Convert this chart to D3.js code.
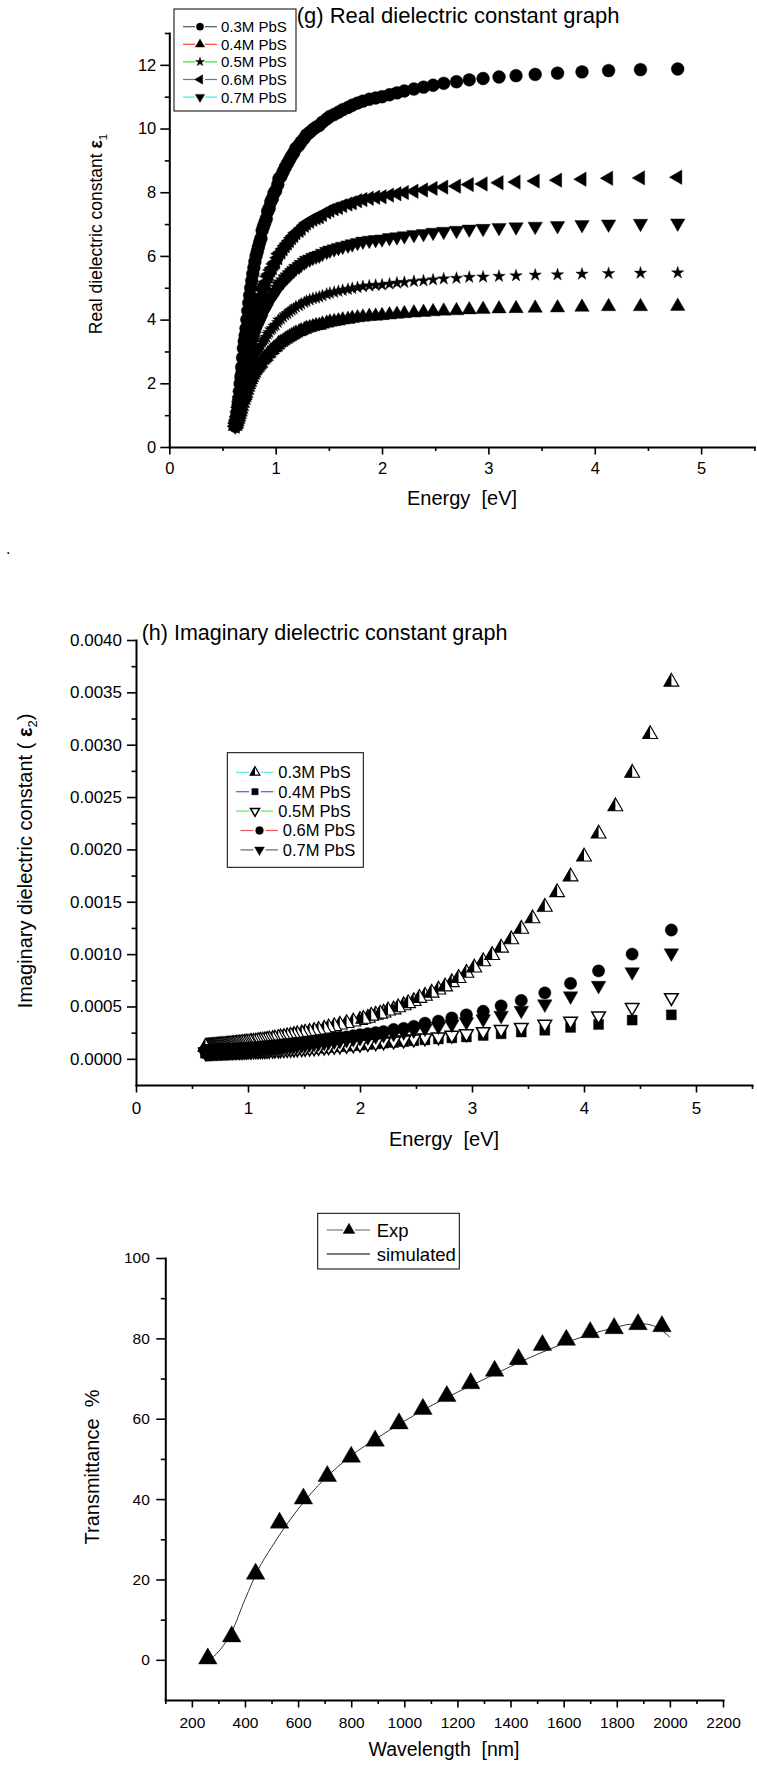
<!DOCTYPE html>
<html>
<head>
<meta charset="utf-8">
<script src="https://cdn.jsdelivr.net/npm/d3@7"></script>
<style>
  body { margin: 0; background: #fff; }
  svg { display: block; }
</style>
</head>
<body>
<div id="chart"></div>
<script>
// photon energy (eV) of the sampled wavelengths, shared by panels (g) and (h)
var energy = [
  4.78, 4.43, 4.13, 3.88, 3.65, 3.44, 3.26, 3.10, 2.95, 2.82,
  2.70, 2.58, 2.48, 2.39, 2.30, 2.21, 2.14, 2.07, 2.00, 1.94,
  1.88, 1.82, 1.77, 1.72, 1.68, 1.63, 1.59, 1.55, 1.51, 1.48,
  1.44, 1.41, 1.38, 1.35, 1.32, 1.29, 1.27, 1.24, 1.22, 1.19,
  1.17, 1.15, 1.13, 1.11, 1.09, 1.07, 1.05, 1.03, 1.02, 1.00,
  0.984, 0.969, 0.954, 0.939, 0.925, 0.912, 0.899, 0.886, 0.873, 0.861,
  0.849, 0.838, 0.827, 0.816, 0.805, 0.795, 0.785, 0.775, 0.765, 0.756,
  0.747, 0.738, 0.729, 0.721, 0.713, 0.705, 0.697, 0.689, 0.681, 0.674,
  0.667, 0.660, 0.653, 0.646, 0.639, 0.633, 0.626, 0.620];

var seriesLabels = ['0.3M PbS', '0.4M PbS', '0.5M PbS', '0.6M PbS', '0.7M PbS'];

// (g) real part
var eps1_03 = [
  11.87, 11.85, 11.82, 11.78, 11.74, 11.70, 11.66, 11.62, 11.57, 11.53,
  11.47, 11.42, 11.36, 11.30, 11.24, 11.18, 11.12, 11.06, 11.00, 10.96,
  10.92, 10.86, 10.80, 10.73, 10.66, 10.59, 10.51, 10.44, 10.38, 10.30,
  10.20, 10.10, 10.04, 9.97, 9.88, 9.80, 9.70, 9.58, 9.48, 9.38,
  9.24, 9.14, 9.02, 8.90, 8.78, 8.64, 8.50, 8.42, 8.24, 8.05,
  7.97, 7.80, 7.70, 7.50, 7.40, 7.17, 7.05, 6.93, 6.80, 6.55,
  6.42, 6.28, 6.14, 6.00, 5.82, 5.63, 5.43, 5.22, 5.00, 4.76,
  4.52, 4.27, 4.00, 3.72, 3.50, 3.32, 3.10, 2.80, 2.50, 2.22,
  2.00, 1.75, 1.50, 1.30, 1.10, 0.90, 0.78, 0.65];
var eps1_04 = [
  4.42, 4.41, 4.41, 4.39, 4.37, 4.36, 4.35, 4.34, 4.32, 4.31,
  4.28, 4.27, 4.25, 4.23, 4.21, 4.19, 4.17, 4.15, 4.13, 4.11,
  4.10, 4.08, 4.06, 4.04, 4.01, 3.99, 3.96, 3.94, 3.92, 3.89,
  3.86, 3.82, 3.81, 3.78, 3.75, 3.73, 3.69, 3.65, 3.62, 3.58,
  3.54, 3.50, 3.46, 3.42, 3.38, 3.33, 3.29, 3.26, 3.20, 3.14,
  3.11, 3.05, 3.02, 2.95, 2.92, 2.84, 2.80, 2.76, 2.72, 2.63,
  2.59, 2.54, 2.49, 2.45, 2.39, 2.32, 2.26, 2.18, 2.11, 2.03,
  1.95, 1.87, 1.78, 1.68, 1.61, 1.55, 1.47, 1.37, 1.27, 1.18,
  1.10, 1.02, 0.94, 0.87, 0.80, 0.73, 0.70, 0.65];
var eps1_05 = [
  5.47, 5.46, 5.45, 5.43, 5.41, 5.40, 5.38, 5.36, 5.34, 5.33,
  5.30, 5.28, 5.25, 5.22, 5.20, 5.17, 5.15, 5.12, 5.09, 5.08,
  5.06, 5.04, 5.01, 4.98, 4.95, 4.92, 4.89, 4.86, 4.83, 4.80,
  4.75, 4.71, 4.68, 4.66, 4.62, 4.58, 4.54, 4.49, 4.44, 4.40,
  4.34, 4.30, 4.25, 4.19, 4.15, 4.08, 4.02, 3.99, 3.91, 3.83,
  3.79, 3.72, 3.68, 3.60, 3.55, 3.45, 3.40, 3.35, 3.29, 3.19,
  3.13, 3.07, 3.01, 2.95, 2.87, 2.79, 2.70, 2.61, 2.52, 2.41,
  2.31, 2.21, 2.09, 1.97, 1.87, 1.80, 1.70, 1.58, 1.45, 1.33,
  1.23, 1.12, 1.02, 0.93, 0.84, 0.76, 0.71, 0.65];
var eps1_06 = [
  8.47, 8.45, 8.44, 8.41, 8.38, 8.35, 8.32, 8.30, 8.26, 8.24,
  8.19, 8.16, 8.12, 8.07, 8.03, 7.99, 7.95, 7.91, 7.86, 7.84,
  7.81, 7.77, 7.73, 7.67, 7.63, 7.58, 7.52, 7.48, 7.43, 7.38,
  7.30, 7.23, 7.20, 7.15, 7.09, 7.03, 6.96, 6.87, 6.80, 6.73,
  6.64, 6.57, 6.48, 6.40, 6.32, 6.22, 6.12, 6.07, 5.94, 5.81,
  5.75, 5.63, 5.56, 5.43, 5.36, 5.19, 5.11, 5.03, 4.94, 4.76,
  4.67, 4.58, 4.47, 4.38, 4.26, 4.12, 3.98, 3.83, 3.68, 3.51,
  3.35, 3.18, 2.99, 2.79, 2.64, 2.51, 2.36, 2.15, 1.94, 1.75,
  1.59, 1.42, 1.24, 1.10, 0.96, 0.82, 0.74, 0.65];
var eps1_07 = [
  7.03, 7.02, 7.00, 6.98, 6.95, 6.93, 6.91, 6.89, 6.86, 6.84,
  6.80, 6.77, 6.74, 6.70, 6.67, 6.63, 6.60, 6.57, 6.53, 6.51,
  6.49, 6.46, 6.42, 6.38, 6.34, 6.30, 6.26, 6.22, 6.18, 6.14,
  6.08, 6.02, 5.99, 5.95, 5.90, 5.86, 5.80, 5.73, 5.67, 5.61,
  5.54, 5.48, 5.41, 5.34, 5.28, 5.19, 5.12, 5.07, 4.96, 4.86,
  4.81, 4.71, 4.66, 4.55, 4.49, 4.36, 4.29, 4.22, 4.15, 4.01,
  3.93, 3.85, 3.77, 3.69, 3.59, 3.48, 3.37, 3.25, 3.13, 2.99,
  2.85, 2.71, 2.56, 2.40, 2.27, 2.17, 2.04, 1.88, 1.70, 1.54,
  1.42, 1.28, 1.14, 1.02, 0.91, 0.79, 0.73, 0.65];

// (h) imaginary part
var eps2_03 = [
  0.00360, 0.00273, 0.00215, 0.00174, 0.00145, 0.00124, 0.00106, 0.00093, 0.00082, 0.00073,
  0.00066, 0.00060, 0.00055, 0.00051, 0.00047, 0.00044, 0.00042, 0.00039, 0.00037, 0.000355,
  0.00034, 0.000325, 0.00031, 0.000298, 0.000285, 0.000275, 0.000264, 0.000255, 0.000248, 0.00024,
  0.000233, 0.000226, 0.00022, 0.000214, 0.000208, 0.000204, 0.000198, 0.000193, 0.000189, 0.000185,
  0.00018, 0.000177, 0.000174, 0.000171, 0.000168, 0.000165, 0.000162, 0.00016, 0.000158, 0.000155,
  0.000154, 0.000151, 0.00015, 0.000148, 0.000146, 0.000144, 0.000143, 0.000142, 0.00014, 0.000138,
  0.000137, 0.000136, 0.000134, 0.000133, 0.000132, 0.000131, 0.00013, 0.000129, 0.000128, 0.000127,
  0.000126, 0.000125, 0.000124, 0.000123, 0.000122, 0.000122, 0.000121, 0.00012, 0.000119, 0.000118,
  0.000118, 0.000117, 0.000116, 0.000116, 0.000115, 0.000114, 0.000114, 0.000113];
// the 0.3M curve has extra points in between at high energy
var energyHalf = [4.59, 4.28, 4.00, 3.76, 3.54, 3.35, 3.18, 3.02, 2.88, 2.76, 2.64, 2.53, 2.43, 2.34, 2.25, 2.18, 2.10, 2.03];
var eps2_03Half = [0.00310, 0.00241, 0.00193, 0.00159, 0.00134, 0.00114, 0.00099, 0.00087, 0.00077, 0.00069,
  0.00063, 0.00058, 0.00053, 0.00049, 0.00046, 0.00043, 0.00041, 0.00038];
var eps2_04 = [
  0.00042, 0.00037, 0.000328, 0.0003, 0.000273, 0.000256, 0.000239, 0.000223, 0.000209, 0.0002,
  0.00019, 0.000181, 0.000172, 0.000164, 0.000156, 0.00015, 0.000143, 0.000137, 0.000131, 0.000126,
  0.000121, 0.000117, 0.000113, 0.000109, 0.000105, 0.000102, 0.000098, 0.000096, 0.000094, 0.000091,
  0.000089, 0.000087, 0.000085, 0.000083, 0.000081, 0.00008, 0.000078, 0.000077, 0.000076, 0.000075,
  0.000073, 0.000072, 0.000071, 0.00007, 0.000069, 0.000069, 0.000068, 0.000067, 0.000067, 0.000066,
  0.000066, 0.000065, 0.000065, 0.000064, 0.000064, 0.000063, 0.000063, 0.000062, 0.000062, 0.000062,
  0.000061, 0.000061, 0.000061, 0.00006, 0.00006, 0.00006, 0.00006, 0.000059, 0.000059, 0.000059,
  0.000058, 0.000058, 0.000058, 0.000058, 0.000057, 0.000057, 0.000057, 0.000057, 0.000056, 0.000056,
  0.000056, 0.000056, 0.000056, 0.000055, 0.000055, 0.000055, 0.000055, 0.000055];
var eps2_05 = [
  0.000585, 0.00049, 0.00041, 0.00036, 0.00033, 0.0003, 0.00028, 0.00026, 0.00024, 0.000225,
  0.00021, 0.0002, 0.00019, 0.00018, 0.00017, 0.000162, 0.000154, 0.000147, 0.00014, 0.000134,
  0.000129, 0.000124, 0.00012, 0.000116, 0.000112, 0.000109, 0.000105, 0.000102, 0.0001, 0.000097,
  0.000095, 0.000093, 0.000091, 0.000089, 0.000087, 0.000086, 0.000084, 0.000083, 0.000082, 0.000081,
  0.00008, 0.000079, 0.000078, 0.000077, 0.000076, 0.000076, 0.000075, 0.000075, 0.000074, 0.000074,
  0.000073, 0.000073, 0.000072, 0.000072, 0.000071, 0.000071, 0.00007, 0.00007, 0.00007, 0.000069,
  0.000069, 0.000068, 0.000068, 0.000068, 0.000067, 0.000067, 0.000067, 0.000066, 0.000066, 0.000066,
  0.000065, 0.000065, 0.000065, 0.000064, 0.000064, 0.000064, 0.000064, 0.000063, 0.000063, 0.000063,
  0.000062, 0.000062, 0.000062, 0.000062, 0.000061, 0.000061, 0.000061, 0.00006];
var eps2_06 = [
  0.00123, 0.00100, 0.00084, 0.00072, 0.00063, 0.000557, 0.000506, 0.000454, 0.00042, 0.00039,
  0.00036, 0.00034, 0.00031, 0.00029, 0.00028, 0.00026, 0.00025, 0.00024, 0.00023, 0.00022,
  0.00021, 0.000205, 0.0002, 0.00019, 0.000183, 0.000177, 0.00017, 0.000165, 0.00016, 0.000155,
  0.00015, 0.000146, 0.000142, 0.000138, 0.000134, 0.000131, 0.000128, 0.000125, 0.000122, 0.00012,
  0.000117, 0.000115, 0.000113, 0.000111, 0.000109, 0.000107, 0.000105, 0.000104, 0.000102, 0.0001,
  0.000099, 0.000098, 0.000097, 0.000096, 0.000095, 0.000094, 0.000093, 0.000092, 0.000091, 0.00009,
  0.000089, 0.000088, 0.000087, 0.000087, 0.000086, 0.000086, 0.000085, 0.000085, 0.000084, 0.000084,
  0.000083, 0.000083, 0.000082, 0.000082, 0.000081, 0.000081, 0.000081, 0.00008, 0.00008, 0.00008,
  0.000079, 0.000079, 0.000079, 0.000078, 0.000078, 0.000078, 0.000077, 0.000077];
var eps2_07 = [
  0.00101, 0.00083, 0.00070, 0.00060, 0.000523, 0.000462, 0.000414, 0.00038, 0.000353, 0.00033,
  0.00031, 0.00029, 0.000272, 0.000256, 0.000242, 0.00023, 0.000218, 0.000208, 0.0002, 0.00019,
  0.000182, 0.000175, 0.000168, 0.000162, 0.000156, 0.00015, 0.000145, 0.00014, 0.000136, 0.000132,
  0.000128, 0.000124, 0.000121, 0.000118, 0.000115, 0.000113, 0.00011, 0.000107, 0.000105, 0.000103,
  0.000101, 0.000099, 0.000097, 0.000095, 0.000094, 0.000092, 0.000091, 0.00009, 0.000089, 0.000088,
  0.000087, 0.000086, 0.000085, 0.000084, 0.000083, 0.000082, 0.000081, 0.00008, 0.00008, 0.000079,
  0.000078, 0.000078, 0.000077, 0.000077, 0.000076, 0.000076, 0.000075, 0.000075, 0.000074, 0.000074,
  0.000073, 0.000073, 0.000073, 0.000072, 0.000072, 0.000072, 0.000071, 0.000071, 0.000071, 0.00007,
  0.00007, 0.00007, 0.00007, 0.000069, 0.000069, 0.000069, 0.000069, 0.000068];

// transmittance
var wavelengthExp = [260, 350, 440, 530, 620, 710, 800, 890, 980, 1070, 1160, 1250, 1340, 1430, 1520, 1610, 1700, 1790, 1880, 1970];
var transExp = [0.3, 5.8, 21.4, 34.1, 40.1, 45.7, 50.5, 54.5, 58.8, 62.4, 65.6, 68.8, 71.9, 74.8, 78.3, 79.6, 81.5, 82.5, 83.5, 83.0];
var wavelengthSim = [265, 300, 350, 400, 450, 500, 550, 600, 650, 700, 800, 900, 1000, 1100, 1200, 1300, 1400, 1500, 1600, 1700, 1800, 1850, 1900, 1950, 2000];
var transSim = [0, 2, 7, 15, 22.5, 28, 33, 37.5, 41.5, 45, 50.8, 55.3, 59.4, 63.2, 66.6, 69.8, 73, 76, 78.7, 81, 82.8, 83.5, 83.6, 82.8, 80.3];

// ticks
var energyTicks = [0, 1, 2, 3, 4, 5];
var energyMinor = [0.5, 1.5, 2.5, 3.5, 4.5, 5.5];
var eps1Ticks = [0, 2, 4, 6, 8, 10, 12];
var eps1Minor = [1, 3, 5, 7, 9, 11, 13];
var eps2Ticks = [0, 0.0005, 0.001, 0.0015, 0.002, 0.0025, 0.003, 0.0035, 0.004];
var eps2Minor = [0.00025, 0.00075, 0.00125, 0.00175, 0.00225, 0.00275, 0.00325, 0.00375];
var wlTicks = [200, 400, 600, 800, 1000, 1200, 1400, 1600, 1800, 2000, 2200];
var wlMinor = [100, 300, 500, 700, 900, 1100, 1300, 1500, 1700, 1900, 2100];
var transTicks = [0, 20, 40, 60, 80, 100];
var transMinor = [10, 30, 50, 70, 90];

var FONT = 'Arial, "Liberation Sans", Helvetica, sans-serif';

var svg = d3.select('#chart').append('svg')
  .attr('width', 757)
  .attr('height', 1769);
svg.append('rect').attr('width', 757).attr('height', 1769).attr('fill', '#fff');

function frame(o) {
  var x = d3.scaleLinear().domain(o.xDomain).range(o.xRange);
  var y = d3.scaleLinear().domain(o.yDomain).range(o.yRange);
  var g = svg.append('g');

  g.append('g').attr('class', 'minor')
    .attr('transform', 'translate(0,' + o.yRange[0] + ')')
    .call(d3.axisBottom(x).tickValues(o.xMinor).tickSize(4).tickSizeOuter(0).tickFormat(''));
  g.append('g').attr('class', 'minor')
    .attr('transform', 'translate(' + o.xRange[0] + ',0)')
    .call(d3.axisLeft(y).tickValues(o.yMinor).tickSize(4.5).tickSizeOuter(0).tickFormat(''));
  g.append('g')
    .attr('transform', 'translate(0,' + o.yRange[0] + ')')
    .call(d3.axisBottom(x).tickValues(o.xTicks).tickSize(7.5).tickSizeOuter(0)
      .tickPadding(o.xPad).tickFormat(o.xFmt));
  g.append('g')
    .attr('transform', 'translate(' + o.xRange[0] + ',0)')
    .call(d3.axisLeft(y).tickValues(o.yTicks).tickSize(9).tickSizeOuter(0)
      .tickPadding(o.yPad).tickFormat(o.yFmt));

  g.selectAll('.minor .domain').remove();
  g.selectAll('.domain').attr('stroke', '#000').attr('stroke-width', 2).attr('stroke-linecap', 'square');
  g.selectAll('.tick line').attr('stroke', '#000').attr('stroke-width', 1.6);
  g.selectAll('.tick text')
    .attr('font-family', FONT)
    .attr('font-size', o.tickFont)
    .attr('fill', '#000');

  return { x: x, y: y, g: g };
}

function marker(sel, kind, size) {
  if (kind === 'halfUp') {
    var r = Math.sqrt(size / (Math.sqrt(3) * 3)), s = Math.sqrt(3) * r;
    sel.append('path')
      .attr('d', 'M0,' + (-2 * r) + 'L' + (-s) + ',' + r + 'L' + s + ',' + r + 'Z')
      .attr('fill', '#fff').attr('stroke', '#000').attr('stroke-width', 1.1);
    sel.append('path')
      .attr('d', 'M0,' + (-2 * r) + 'L' + (-s) + ',' + r + 'L0,' + r + 'Z')
      .attr('fill', '#000');
    return;
  }
  var type = { circle: d3.symbolCircle, star: d3.symbolStar, square: d3.symbolSquare }[kind] || d3.symbolTriangle;
  var rot = { left: -90, down: 180, downOpen: 180 }[kind] || 0;
  sel.append('path')
    .attr('d', d3.symbol().type(type).size(size)())
    .attr('transform', rot ? 'rotate(' + rot + ')' : null)
    .attr('fill', kind === 'downOpen' ? '#fff' : '#000')
    .attr('stroke', '#000')
    .attr('stroke-width', kind === 'downOpen' ? 1.5 : 0.4);
}

function marks(p, xs, ys, kind, size) {
  var sel = p.g.append('g').selectAll('g')
    .data(d3.zip(xs, ys))
    .join('g')
    .attr('transform', function (d) { return 'translate(' + p.x(d[0]) + ',' + p.y(d[1]) + ')'; });
  marker(sel, kind, size);
}

function legend(box, rows, font) {
  svg.append('rect')
    .attr('x', box[0]).attr('y', box[1]).attr('width', box[2]).attr('height', box[3])
    .attr('fill', '#fff').attr('stroke', '#000').attr('stroke-width', 1);
  rows.forEach(function (r) {
    svg.append('line').attr('x1', r.x1).attr('x2', r.xm - r.gap).attr('y1', r.y).attr('y2', r.y)
      .attr('stroke', r.color).attr('stroke-width', 1.2);
    svg.append('line').attr('x1', r.xm + r.gap).attr('x2', r.x2).attr('y1', r.y).attr('y2', r.y)
      .attr('stroke', r.color).attr('stroke-width', 1.2);
    if (r.kind) {
      marker(svg.append('g').attr('transform', 'translate(' + r.xm + ',' + r.y + ')'), r.kind, r.size);
    }
    svg.append('text')
      .attr('x', r.tx).attr('y', r.y + font * 0.36)
      .attr('font-family', FONT).attr('font-size', font).attr('fill', '#000')
      .text(r.label);
  });
}

function text(x, y, str, size, anchor) {
  return svg.append('text')
    .attr('x', x).attr('y', y)
    .attr('text-anchor', anchor || 'start')
    .attr('font-family', FONT).attr('font-size', size).attr('fill', '#000')
    .text(str);
}

////////////////////////////////
// (g) real dielectric constant
var p1 = frame({
  xDomain: [0, 5.5], xRange: [169.3, 754.3],
  yDomain: [0, 13], yRange: [447, 33],
  xTicks: energyTicks, xMinor: energyMinor, yTicks: eps1Ticks, yMinor: eps1Minor,
  xFmt: d3.format('d'), yFmt: d3.format('d'), xPad: 8, yPad: 4, tickFont: 16.5
});
var kinds1 = ['circle', 'up', 'star', 'left', 'down'];
var sizes1 = [130, 90, 48, 90, 90];
[eps1_03, eps1_04, eps1_05, eps1_06, eps1_07].forEach(function (ys, i) {
  marks(p1, energy, ys, kinds1[i], sizes1[i]);
});

text(296.7, 22.5, '(g) Real dielectric constant graph', 22);
text(462, 505, 'Energy\u00a0 [eV]', 20, 'middle');
var t1 = svg.append('text')
  .attr('transform', 'translate(102,234) rotate(-90)')
  .attr('text-anchor', 'middle')
  .attr('font-family', FONT).attr('font-size', 17.5).attr('fill', '#000');
t1.append('tspan').text('Real dielectric constant ');
t1.append('tspan').attr('font-weight', 'bold').text('\u03b5');
t1.append('tspan').attr('font-size', 11.5).attr('dy', 5).text('1');

var colors1 = ['#555555', '#ff4040', '#33dd33', '#6060ff', '#33eeee'];
legend([174, 9, 122, 102], seriesLabels.map(function (lab, i) {
  return { y: 26.7 + i * 17.6, x1: 183, xm: 200, x2: 217, gap: 5, tx: 221,
    color: colors1[i], kind: kinds1[i], size: [42, 38, 26, 38, 38][i], label: lab };
}), 15);

svg.append('text').attr('x', 6).attr('y', 554)
  .attr('font-family', FONT).attr('font-size', 16).text('.');

////////////////////////////////
// (h) imaginary dielectric constant
var p2 = frame({
  xDomain: [0, 5.5], xRange: [136, 752],
  yDomain: [-0.00025, 0.004], yRange: [1085, 640],
  xTicks: energyTicks, xMinor: energyMinor, yTicks: eps2Ticks, yMinor: eps2Minor,
  xFmt: d3.format('d'), yFmt: d3.format('.4f'), xPad: 9, yPad: 5, tickFont: 17
});
marks(p2, energy, eps2_03, 'halfUp', 95);
marks(p2, energyHalf, eps2_03Half, 'halfUp', 95);
marks(p2, energy, eps2_04, 'square', 100);
marks(p2, energy, eps2_05, 'downOpen', 80);
marks(p2, energy, eps2_06, 'circle', 120);
marks(p2, energy, eps2_07, 'down', 92);

text(141.7, 639.5, '(h) Imaginary dielectric constant graph', 21.5);
text(444, 1146, 'Energy\u00a0 [eV]', 20, 'middle');
var t2 = svg.append('text')
  .attr('transform', 'translate(32,861) rotate(-90)')
  .attr('text-anchor', 'middle')
  .attr('font-family', FONT).attr('font-size', 20).attr('fill', '#000');
t2.append('tspan').text('Imaginary dielectric constant ( ');
t2.append('tspan').attr('font-weight', 'bold').text('\u03b5');
t2.append('tspan').attr('font-size', 13).attr('dy', 5).text('2');
t2.append('tspan').attr('dy', -5).text(')');

var colors2 = ['#55eeee', '#5555ee', '#55ee55', '#ee5555', '#666666'];
var kinds2 = ['halfUp', 'square', 'downOpen', 'circle', 'down'];
legend([227.3, 752.7, 136, 114.6], seriesLabels.map(function (lab, i) {
  var shift = i > 2 ? 4.5 : 0;
  return { y: 772.3 + i * 19.4, x1: 236 + shift, xm: 255 + shift, x2: 273.3 + shift, gap: 6,
    tx: 278.3 + shift, color: colors2[i], kind: kinds2[i], size: [42, 40, 36, 48, 42][i], label: lab };
}), 16.5);

////////////////////////////////
// transmittance
var p3 = frame({
  xDomain: [100, 2200], xRange: [165.3, 723],
  yDomain: [-10, 100], yRange: [1700, 1258],
  xTicks: wlTicks, xMinor: wlMinor, yTicks: transTicks, yMinor: transMinor,
  xFmt: d3.format('d'), yFmt: d3.format('d'), xPad: 9, yPad: 6.5, tickFont: 15.5
});
p3.g.append('path')
  .datum(d3.zip(wavelengthSim, transSim))
  .attr('fill', 'none')
  .attr('stroke', '#333')
  .attr('stroke-width', 1)
  .attr('d', d3.line()
    .x(function (d) { return p3.x(d[0]); })
    .y(function (d) { return p3.y(d[1]); })
    .curve(d3.curveMonotoneX));
marks(p3, wavelengthExp, transExp, 'up', 150);

text(444, 1756, 'Wavelength\u00a0 [nm]', 19.5, 'middle');
svg.append('text')
  .attr('transform', 'translate(99,1467) rotate(-90)')
  .attr('text-anchor', 'middle')
  .attr('font-family', FONT).attr('font-size', 20).attr('fill', '#000')
  .text('Transmittance\u00a0 %');

legend([317.7, 1213.3, 141.6, 55.7], [
  { y: 1230, x1: 326.7, xm: 349, x2: 370, gap: 6, tx: 376.7, color: '#777', kind: 'up', size: 60, label: 'Exp' },
  { y: 1254, x1: 326.7, xm: 349, x2: 370, gap: 0, tx: 376.7, color: '#222', kind: null, size: 0, label: 'simulated' }
], 18.5);
</script>
</body>
</html>
